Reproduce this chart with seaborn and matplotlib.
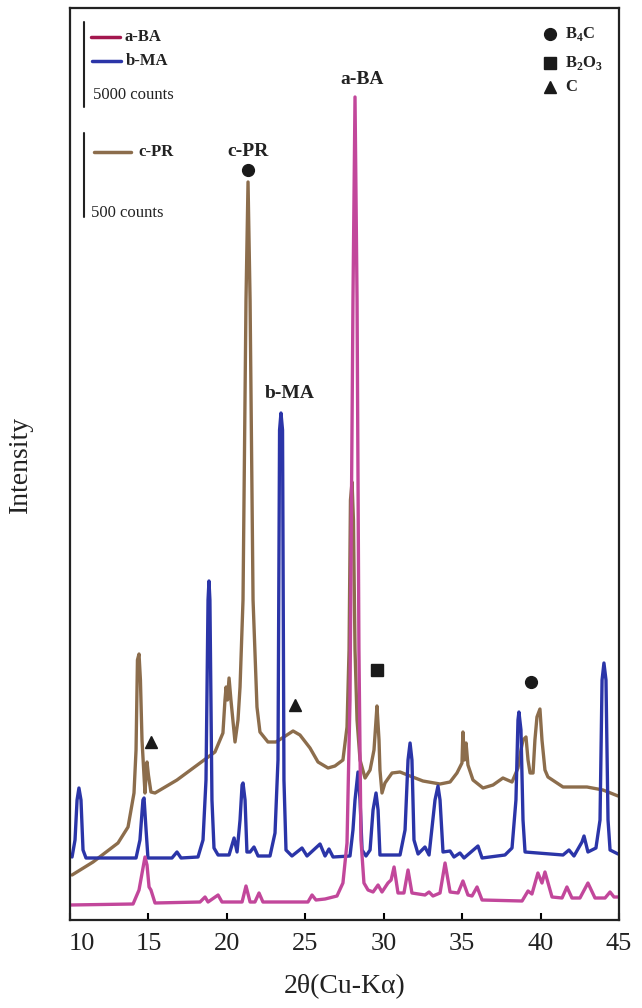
import numpy as np
import pandas as pd
import matplotlib
matplotlib.use("Agg")
import matplotlib.pyplot as plt
import matplotlib.transforms as mtransforms
import seaborn as sns

# ---------------- data (2theta in degrees, intensity in stacked arbitrary units) -------------
ba_2theta = [10.00, 14.02, 14.40, 14.78, 14.91, 15.04, 15.16, 15.42, 18.29, 18.61, 18.80, 19.44,
             19.69, 20.97, 21.22, 21.48, 21.79, 22.05, 22.30, 25.17, 25.43, 25.68, 26.26, 27.02,
             27.40, 27.66, 27.85, 28.04, 28.17, 28.30, 28.42, 28.55, 28.74, 29.00, 29.32, 29.64,
             29.89, 30.27, 30.47, 30.66, 30.91, 31.29, 31.55, 31.80, 32.63, 32.89, 33.14, 33.59,
             33.91, 34.23, 34.74, 35.05, 35.37, 35.63, 35.95, 36.27, 38.82, 39.20, 39.45, 39.83,
             40.09, 40.28, 40.73, 41.37, 41.68, 42.00, 42.51, 43.02, 43.47, 44.11, 44.43, 44.68,
             44.94]
ba_int = [15, 16, 30, 63, 55, 33, 30, 17, 18, 23, 18, 25,
          18, 18, 34, 18, 18, 27, 18, 18, 25, 20, 21, 24,
          37, 77, 220, 620, 823, 620, 270, 80, 37, 30, 28, 35,
          28, 37, 40, 53, 27, 27, 50, 27, 25, 28, 24, 27,
          57, 28, 27, 39, 25, 24, 33, 20, 19, 29, 26, 47,
          37, 48, 23, 22, 33, 22, 22, 37, 22, 22, 28, 23,
          23]

ma_2theta = [10.13, 10.32, 10.45, 10.57, 10.70, 10.83, 11.02, 14.21, 14.46, 14.65, 14.72, 14.85,
             14.97, 16.50, 16.82, 17.08, 18.16, 18.48, 18.67, 18.80, 18.86, 18.92, 19.05, 19.18,
             19.44, 20.14, 20.46, 20.65, 20.84, 20.97, 21.03, 21.16, 21.28, 21.48, 21.73, 21.99,
             22.75, 23.07, 23.26, 23.36, 23.45, 23.55, 23.64, 23.77, 24.15, 24.79, 25.11, 25.94,
             26.26, 26.51, 26.77, 27.85, 28.04, 28.17, 28.36, 28.49, 28.62, 28.87, 29.13, 29.32,
             29.51, 29.64, 29.76, 31.04, 31.36, 31.55, 31.68, 31.80, 31.93, 32.19, 32.63, 32.89,
             33.27, 33.46, 33.59, 33.78, 34.23, 34.48, 34.86, 35.12, 36.01, 36.27, 37.73, 38.18,
             38.43, 38.56, 38.62, 38.75, 38.88, 39.01, 41.43, 41.81, 42.13, 42.64, 42.77, 43.02,
             43.53, 43.79, 43.92, 44.04, 44.17, 44.30, 44.43, 44.94]
ma_int = [63, 80, 120, 132, 120, 70, 62, 62, 80, 120, 122, 90,
          62, 62, 68, 62, 63, 80, 140, 320, 339, 320, 120, 72,
          65, 65, 82, 68, 100, 135, 137, 120, 68, 68, 73, 64,
          64, 87, 160, 490, 507, 490, 140, 70, 64, 72, 64, 76,
          64, 71, 63, 64, 90, 120, 148, 120, 70, 64, 70, 110,
          127, 110, 65, 65, 90, 160, 177, 160, 80, 66, 73, 65,
          120, 134, 120, 68, 69, 63, 67, 62, 74, 62, 65, 72,
          120, 200, 208, 190, 100, 68, 65, 70, 64, 78, 84, 68,
          72, 100, 240, 257, 240, 100, 70, 66]

pr_2theta = [10.13, 11.47, 13.06, 13.70, 14.08, 14.21, 14.30, 14.40, 14.49, 14.59, 14.78, 14.85,
             14.91, 15.00, 15.16, 15.42, 16.82, 19.24, 19.75, 19.88, 19.95, 20.04, 20.14, 20.26,
             20.52, 20.71, 20.84, 21.03, 21.22, 21.35, 21.48, 21.67, 21.92, 22.11, 22.62, 23.13,
             23.83, 24.22, 24.66, 25.30, 25.81, 26.45, 26.89, 27.40, 27.66, 27.79, 27.88, 27.98,
             28.07, 28.17, 28.30, 28.49, 28.81, 29.13, 29.38, 29.51, 29.57, 29.70, 29.76, 29.89,
             30.08, 30.53, 31.04, 31.68, 32.50, 33.59, 34.23, 34.67, 34.99, 35.05, 35.15, 35.25,
             35.37, 35.69, 36.33, 36.97, 37.60, 38.18, 38.56, 38.75, 38.88, 39.07, 39.20, 39.33,
             39.52, 39.64, 39.77, 39.96, 40.09, 40.28, 40.47, 41.43, 42.96, 43.98, 44.94]
pr_int = [45, 58, 77, 93, 127, 170, 260, 266, 240, 180, 127, 145,
          158, 145, 128, 127, 140, 168, 187, 220, 233, 220, 242, 220,
          178, 200, 233, 320, 620, 738, 620, 320, 213, 188, 178, 178,
          185, 189, 185, 172, 158, 152, 154, 160, 193, 270, 420, 438,
          400, 270, 200, 160, 142, 150, 170, 200, 214, 180, 150, 127,
          137, 147, 148, 144, 139, 136, 138, 147, 157, 188, 160, 177,
          155, 140, 132, 135, 142, 138, 152, 170, 180, 183, 160, 147,
          147, 180, 203, 211, 180, 150, 143, 133, 133, 130, 124]

series_names = ["a-BA", "b-MA", "c-PR"]
series_colors = ["#C2479B", "#2B35A8", "#8C6D4C"]
legend_swatch_colors = ["#A3174E", "#2B35A8", "#8C6D4C"]

peak_labels = ["c-PR", "b-MA", "a-BA"]
peak_label_pos = [(21.35, 768), (24.03, 527), (28.60, 840)]

phase_names = ["B$_\\mathbf{4}$C", "B$_\\mathbf{2}$O$_\\mathbf{3}$", "C"]
phase_markers = ["o", "s", "^"]
b4c_marks = [(21.35, 750), (39.39, 238)]
b2o3_marks = [(29.57, 250)]
c_marks = [(15.16, 178), (24.34, 215)]

xticks = [10, 15, 20, 25, 30, 35, 40, 45]

# ---------------- plotting -------------
sns.set_theme(style="white")
plt.rcParams["font.family"] = ["Liberation Serif", "DejaVu Serif"]
plt.rcParams["mathtext.fontset"] = "custom"
plt.rcParams["mathtext.rm"] = "Liberation Serif"
plt.rcParams["mathtext.bf"] = "Liberation Serif:bold"

fig = plt.figure(figsize=(6.42, 10.08), dpi=100)
ax = fig.add_axes([70 / 642, 88 / 1008, 549 / 642, 912 / 1008])

frames = []
for name, xs, ys in zip(series_names, [ba_2theta, ma_2theta, pr_2theta], [ba_int, ma_int, pr_int]):
    frames.append(pd.DataFrame({"2theta": xs, "I": ys, "sample": name}))

# draw c-PR first, then b-MA, then a-BA on top
for name, col in zip(series_names[::-1], series_colors[::-1]):
    d = [f for f in frames if f["sample"].iloc[0] == name][0]
    sns.lineplot(data=d, x="2theta", y="I", sort=False, estimator=None,
                 color=col, lw=2.4, ax=ax, legend=False)

ax.set_xlim(10, 45)
ax.set_ylim(0, 912)
ax.set_xticks(xticks)
ax.set_xticklabels([str(t) for t in xticks])
ax.set_yticks([])
ax.tick_params(axis="x", direction="in", length=5, width=1.5, color="black",
               labelsize=19, pad=9, bottom=True, top=False, labelcolor="#222222")
# first label sits a little to the right of the spine in the reference
first = ax.get_xticklabels()[0]
first.set_transform(first.get_transform() +
                    mtransforms.ScaledTranslation(12 / 100, 0, fig.dpi_scale_trans))
for s in ax.spines.values():
    s.set_color("#222222")
    s.set_linewidth(1.6)
ax.set_xlabel("2θ(Cu-Kα)", fontsize=20, labelpad=14, color="#222222")
ax.set_ylabel("Intensity", fontsize=20, labelpad=27, color="#222222")

# peak labels
for txt, (x, y) in zip(peak_labels, peak_label_pos):
    ax.text(x, y, txt, ha="center", va="center", fontsize=14, fontweight="bold", color="#222222")

# phase markers
for marks, m in zip([b4c_marks, b2o3_marks, c_marks], phase_markers):
    for (x, y) in marks:
        ax.plot([x], [y], marker=m, ms=8.5 if m != "s" else 8, color="#1a1a1a", ls="none")

# top-left scale legend
T = ax.transAxes
ax.plot([0.0255, 0.0255], [0.985, 0.891], color="#222222", lw=1.5, transform=T)
ax.plot([0.0255, 0.0255], [0.863, 0.771], color="#222222", lw=1.5, transform=T)
ax.plot([0.038, 0.091], [0.968, 0.968], color=legend_swatch_colors[0], lw=2.5, transform=T)
ax.text(0.100, 0.968, series_names[0], transform=T, fontsize=12, fontweight="bold",
        va="center", ha="left", color="#222222")
ax.plot([0.040, 0.093], [0.942, 0.942], color=legend_swatch_colors[1], lw=2.5, transform=T)
ax.text(0.102, 0.942, series_names[1], transform=T, fontsize=12, fontweight="bold",
        va="center", ha="left", color="#222222")
ax.text(0.042, 0.905, "5000 counts", transform=T, fontsize=12, va="center", ha="left",
        color="#222222")
ax.plot([0.044, 0.111], [0.842, 0.842], color=legend_swatch_colors[2], lw=2.5, transform=T)
ax.text(0.124, 0.842, series_names[2], transform=T, fontsize=12, fontweight="bold",
        va="center", ha="left", color="#222222")
ax.text(0.038, 0.775, "500 counts", transform=T, fontsize=12, va="center", ha="left",
        color="#222222")

# top-right phase legend
for fy, m, nm in zip([0.971, 0.940, 0.913], phase_markers, phase_names):
    ax.plot([0.874], [fy], marker=m, ms=8.5 if m != "s" else 8, color="#1a1a1a",
            ls="none", transform=T)
    ax.text(0.902, fy, nm, transform=T, fontsize=12, fontweight="bold", va="center",
            ha="left", color="#222222")

fig.savefig("out.png", dpi=100, facecolor="white")
